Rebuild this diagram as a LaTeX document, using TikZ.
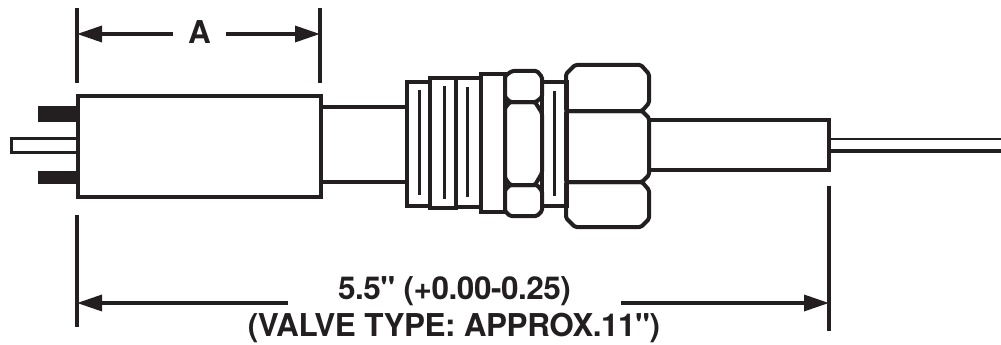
\documentclass[tikz,border=0pt]{standalone}
\usepackage{fontspec}
\newfontfamily\dimfont{TeX Gyre Heros}[LetterSpace=-1.5]
\usetikzlibrary{arrows.meta}
\begin{document}
\begin{tikzpicture}[x=1pt,y=-1pt,
    part/.style={draw=inkblack,line width=3.2pt,line join=miter},
    heavy/.style={draw=inkblack,line width=4pt,line join=round,rounded corners=1.5pt},
    slot/.style={draw=inkblack,line width=3pt},
    extline/.style={draw=inkblack,line width=3.4pt},
    dimarrow/.style={draw=inkblack,line width=3.4pt,-{Triangle[length=25pt,width=16pt]}},
    dimtext/.style={font=\dimfont\fontsize{31.5}{31.5}\selectfont\bfseries,text=inkblack,inner sep=0pt,anchor=center}]
    \definecolor{inkblack}{HTML}{231F20}
    \useasboundingbox (0,0) rectangle (1001,345);
    % pins and sensor body
    \fill [inkblack] (38,106) rectangle (78,122);
    \fill [inkblack] (38,171) rectangle (78,184);
    \draw [part] (77,138.5) -- (11.5,138.5) -- (11.5,152.5) -- (77,152.5);
    \draw [part] (78,96) rectangle (321,197);
    \draw [part] (321,107) -- (407,107);
    \draw [part] (321,182) -- (407,182);
    % threaded rings
    \draw [part] (407,82) rectangle (430,206);
    \draw [slot] (419,90) -- (419,195);
    \draw [part] (430,78) rectangle (456,208);
    \draw [slot] (444,86) -- (444,199);
    \draw [part] (456,78) rectangle (481,207);
    \draw [slot] (467,87) -- (467,197);
    \draw [draw=inkblack,line width=4pt] (481,74) rectangle (505,212);
    \draw [part] (542,82) rectangle (567,206);
    \draw [slot] (554,91) -- (554,196);
    % small hex
    \draw [heavy] (505,76) -- (512,71) -- (537,71) -- (542,77) -- (542,97) -- (536,102) -- (510,102) -- (505,97) -- cycle;
    \draw [heavy] (505,108) -- (510,102) -- (535,102) -- (542,113) -- (542,173) -- (535,185) -- (510,185) -- (505,178) -- cycle;
    \draw [heavy] (505,190) -- (510,185) -- (537,185) -- (542,191) -- (542,211) -- (537,216) -- (510,216) -- (505,211) -- cycle;
    % large hex
    \draw [heavy] (566,74) -- (575,65) -- (641,65) -- (649,74) -- (649,103) -- (642,111) -- (566,111) -- cycle;
    \draw [heavy] (566,111) -- (642,111) -- (649,118) -- (649,175) -- (642,182) -- (566,182) -- cycle;
    \draw [heavy] (566,182) -- (642,182) -- (649,190) -- (649,219) -- (641,227) -- (575,227) -- (566,218) -- cycle;
    % tube and wires
    \draw [part] (649,120) -- (829,120) -- (829,170) -- (649,170);
    \draw [draw=inkblack,line width=2.6pt] (829,139) -- (1001,139);
    \draw [part] (829,151) -- (1001,151);
    % dimensions
    \draw [extline] (77,8) -- (77,83);
    \draw [extline] (320,8) -- (320,83);
    \draw [extline] (77,215) -- (77,327);
    \draw [extline] (829,186) -- (829,331);
    \coordinate (aleft) at (77,34);
    \coordinate (aright) at (320,34);
    \coordinate (lenleft) at (77,303);
    \coordinate (lenright) at (829,303);
    \node [dimtext,minimum width=53pt] (alabel) at (199.5,32) {A};
    \node [dimtext,minimum width=333pt] (lenlabel) at (454.5,291.5) {5.5" (+0.00-0.25)};
    \node [dimtext] (typelabel) at (454,328) {(VALVE TYPE: APPROX.11")};
    \draw [dimarrow] (alabel.west |- aleft) -- (aleft);
    \draw [dimarrow] (alabel.east |- aright) -- (aright);
    \draw [dimarrow] (lenlabel.west |- lenleft) -- (lenleft);
    \draw [dimarrow] (lenlabel.east |- lenright) -- (lenright);
\end{tikzpicture}
\end{document}
